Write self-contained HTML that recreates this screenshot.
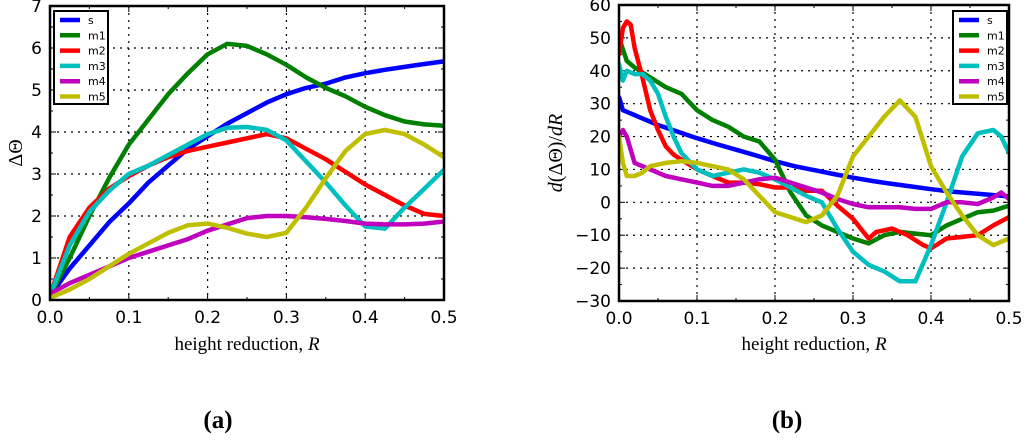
<!DOCTYPE html>
<html><head><meta charset="utf-8"><style>
body{margin:0;background:#fff;width:1024px;height:435px;overflow:hidden}
svg text{font-family:"DejaVu Sans","Liberation Sans",sans-serif}
</style></head><body>
<svg id="fig" width="1024" height="435">
<text x="218" y="428" font-weight="bold" font-size="25" text-anchor="middle" style="font-family:'Liberation Serif',serif">(a)</text>
<text x="787" y="428" font-weight="bold" font-size="25" text-anchor="middle" style="font-family:'Liberation Serif',serif">(b)</text>
</svg>
<script>
const seriesNames=["s","m1","m2","m3","m4","m5"];
const colors=["#0000ff","#007f00","#ff0000","#00bfbf","#bf00bf","#bfbf00"];
// Panel A data
const aX=[0,0.025,0.05,0.075,0.1,0.125,0.15,0.175,0.2,0.225,0.25,0.275,0.3,0.325,0.35,0.375,0.4,0.425,0.45,0.475,0.5];
const aS=[0.1,0.75,1.3,1.85,2.3,2.8,3.2,3.6,3.9,4.2,4.45,4.7,4.9,5.05,5.15,5.3,5.4,5.48,5.55,5.62,5.68];
const aM1=[0.1,1.0,2.0,2.9,3.7,4.3,4.9,5.4,5.85,6.1,6.05,5.85,5.6,5.3,5.05,4.85,4.6,4.4,4.25,4.18,4.15];
const aM2=[0.1,1.5,2.2,2.65,2.95,3.2,3.4,3.55,3.65,3.75,3.85,3.95,3.85,3.6,3.35,3.05,2.75,2.5,2.25,2.05,2.0];
const aM3=[0.1,1.3,2.1,2.6,3.0,3.2,3.45,3.7,3.95,4.1,4.12,4.05,3.8,3.3,2.8,2.25,1.75,1.7,2.2,2.65,3.1];
const aM4=[0.15,0.4,0.6,0.8,1.0,1.15,1.3,1.45,1.65,1.8,1.95,2.0,2.0,1.97,1.93,1.88,1.82,1.8,1.8,1.82,1.87];
const aM5=[0.05,0.25,0.5,0.8,1.1,1.35,1.6,1.78,1.82,1.72,1.58,1.5,1.6,2.2,2.9,3.55,3.95,4.05,3.95,3.7,3.4];
const aYTicks=[0,1,2,3,4,5,6,7];
// Panel B data
const bS_x=[0,0.005,0.025,0.05,0.075,0.1,0.125,0.15,0.175,0.2,0.225,0.25,0.275,0.3,0.325,0.35,0.375,0.4,0.425,0.45,0.475,0.5];
const bS=[32,28,26,23.5,21.5,19.5,17.7,16,14.3,12.5,11,9.8,8.6,7.5,6.5,5.6,4.8,4,3.3,2.8,2.3,1.8];
const bM1_x=[0,0.01,0.02,0.04,0.06,0.08,0.1,0.12,0.14,0.16,0.18,0.2,0.22,0.24,0.26,0.28,0.3,0.32,0.34,0.36,0.38,0.4,0.42,0.44,0.46,0.48,0.5];
const bM1=[50,43,41,38,35,33,28,25,23,20,18.5,13,3,-4,-7,-9,-11,-12.5,-10,-9,-9.5,-10,-7,-5,-3,-2.5,-1];
const bM2_x=[0,0.005,0.01,0.015,0.02,0.03,0.04,0.05,0.06,0.07,0.08,0.1,0.12,0.14,0.16,0.18,0.2,0.22,0.24,0.26,0.28,0.3,0.32,0.33,0.35,0.37,0.39,0.4,0.42,0.44,0.46,0.48,0.5];
const bM2=[45,53,55,54,47,38,28,22,17,14.5,13,10,8,6,6,5.5,4.5,4.5,3.5,3.5,-1,-5,-11,-9,-8,-10,-13,-14,-11,-10.5,-10,-7,-4.5];
const bM3_x=[0,0.005,0.01,0.02,0.03,0.04,0.05,0.06,0.07,0.08,0.1,0.12,0.14,0.16,0.18,0.2,0.22,0.24,0.26,0.28,0.3,0.32,0.34,0.36,0.38,0.4,0.42,0.44,0.46,0.48,0.49,0.5];
const bM3=[42,37,40,39,39,37,33,26,20,15,10,8,9,10,9,7,4.5,2,0,-8,-15,-19,-21,-24,-24,-13,0,14,21,22,20,15];
const bM4_x=[0,0.005,0.01,0.02,0.04,0.06,0.08,0.1,0.12,0.14,0.16,0.18,0.2,0.22,0.24,0.26,0.28,0.3,0.32,0.34,0.36,0.38,0.4,0.42,0.44,0.46,0.48,0.49,0.5];
const bM4=[20,22,20,12,10,8,7,6,5,5,6,7,7.5,6,4.5,3,1,-0.5,-1.5,-1.5,-1.5,-2,-2,0,0,-0.5,1.5,3,1];
const bM5_x=[0,0.005,0.01,0.02,0.03,0.04,0.06,0.08,0.1,0.12,0.14,0.16,0.18,0.2,0.22,0.24,0.26,0.28,0.3,0.32,0.34,0.36,0.38,0.4,0.42,0.44,0.46,0.48,0.5];
const bM5=[20,12,8,8,9,11,12,12.5,12,11,10,7,2,-3,-4.5,-6,-4,2,14,20,26,31,26,11,3,-4,-10,-13,-11];
const bYTicks=[-30,-20,-10,0,10,20,30,40,50,60];
const xTicks=[0,0.1,0.2,0.3,0.4,0.5];
const xTickLabels=["0.0","0.1","0.2","0.3","0.4","0.5"];

const NS="http://www.w3.org/2000/svg";
const svg=document.getElementById('fig');
function mk(tag,attrs,parent){const e=document.createElementNS(NS,tag);for(const k in attrs)e.setAttribute(k,attrs[k]);(parent||svg).appendChild(e);return e;}

function panel(p){
  const g=mk('g',{});
  
  
  const xs=v=>p.x0+(v-0)/(0.5)*(p.x1-p.x0);
  const ys=v=>p.y1-(v-p.ymin)/(p.ymax-p.ymin)*(p.y1-p.y0);
  const clipId=p.name+'-clip';
  const cp=mk('clipPath',{id:clipId},g);mk('rect',{x:p.x0,y:p.y0,width:p.x1-p.x0,height:p.y1-p.y0},cp);
  xTicks.forEach((t,i)=>{
    if(i>0&&i<xTicks.length-1){const l=mk('line',{x1:xs(t),x2:xs(t),y1:p.y0,y2:p.y1,stroke:'#000','stroke-width':1.2,'stroke-dasharray':'2,5'},g);
    }
    const tk=mk('line',{x1:xs(t),x2:xs(t),y1:p.y1,y2:p.y1-6,stroke:'#000','stroke-width':1},g);
    
    mk('line',{x1:xs(t),x2:xs(t),y1:p.y0,y2:p.y0+6,stroke:'#000','stroke-width':1},g);
    const tx=mk('text',{x:xs(t),y:p.y1+23,'font-size':17,'text-anchor':'middle'},g);tx.textContent=xTickLabels[i];
    
    if(i<xTicks.length-1){const mt=(t+xTicks[i+1])/2;
      mk('line',{x1:xs(mt),x2:xs(mt),y1:p.y1,y2:p.y1-3,stroke:'#000'},g);
      mk('line',{x1:xs(mt),x2:xs(mt),y1:p.y0,y2:p.y0+3,stroke:'#000'},g);}
  });
  p.yTicks.forEach((t,i)=>{
    if(i>0&&i<p.yTicks.length-1){const l=mk('line',{x1:p.x0,x2:p.x1,y1:ys(t),y2:ys(t),stroke:'#000','stroke-width':1.2,'stroke-dasharray':'2,5'},g);
    }
    mk('line',{x1:p.x0,x2:p.x0+6,y1:ys(t),y2:ys(t),stroke:'#000'},g);
    mk('line',{x1:p.x1,x2:p.x1-6,y1:ys(t),y2:ys(t),stroke:'#000'},g);
    const tx=mk('text',{x:p.x0-8,y:ys(t)+6,'font-size':17,'text-anchor':'end'},g);tx.textContent=(t<0?'\u2212'+(-t):String(t));
    
    if(i<p.yTicks.length-1){const mt=(t+p.yTicks[i+1])/2;
      mk('line',{x1:p.x0,x2:p.x0+3,y1:ys(mt),y2:ys(mt),stroke:'#000'},g);
      mk('line',{x1:p.x1,x2:p.x1-3,y1:ys(mt),y2:ys(mt),stroke:'#000'},g);}
  });
  const lg=mk('g',{'clip-path':'url(#'+clipId+')'},g);
  p.series.forEach((s,i)=>{
    const pts=s.x.map((xv,j)=>xs(xv).toFixed(1)+','+ys(s.y[j]).toFixed(1)).join(' ');
    const pl=mk('polyline',{points:pts,fill:'none',stroke:colors[i],'stroke-width':4.5,'stroke-linejoin':'round','stroke-linecap':'round'},lg);
    
  });
  const fr=mk('rect',{x:p.x0,y:p.y0,width:p.x1-p.x0,height:p.y1-p.y0,fill:'none',stroke:'#000','stroke-width':2.5},g);
  
  const leg=mk('g',{},g);
  
  mk('rect',{x:p.lx,y:11,width:54,height:93,fill:'#fff',stroke:'#000','stroke-width':2},leg);
  seriesNames.forEach((n,i)=>{
    const yy=20+i*15.3;
    const e=mk('g',{},leg);
    
    mk('line',{x1:p.lx+6,x2:p.lx+26,y1:yy,y2:yy,stroke:colors[i],'stroke-width':4.5},e);
    const t=mk('text',{x:p.lx+34,y:yy+4,'font-size':11},e);t.textContent=n;
  });
  const xl=mk('text',{x:(p.x0+p.x1)/2,y:350,'font-size':19,'text-anchor':'middle',style:"font-family:'Liberation Serif',serif"},g);
  
  xl.innerHTML='height reduction, <tspan font-style="italic">R</tspan>';
  const yl=mk('text',{x:0,y:0,'font-size':20,'text-anchor':'middle',transform:'translate('+p.ylx+','+((p.y0+p.y1)/2)+') rotate(-90)',style:"font-family:'Liberation Serif',serif"},g);
  
  yl.innerHTML=p.ylabel;
}
panel({name:'panel-a',x0:50,x1:444,y0:6,y1:300,ymin:0,ymax:7,yTicks:aYTicks,lx:54,ylx:22,ylabel:'\u0394\u0398',
  series:[{x:aX,y:aS},{x:aX,y:aM1},{x:aX,y:aM2},{x:aX,y:aM3},{x:aX,y:aM4},{x:aX,y:aM5}]});
panel({name:'panel-b',x0:619,x1:1009,y0:5,y1:301,ymin:-30,ymax:60,yTicks:bYTicks,lx:953,ylx:562,ylabel:'<tspan font-style="italic">d</tspan>(\u0394\u0398)/<tspan font-style="italic">dR</tspan>',
  series:[{x:bS_x,y:bS},{x:bM1_x,y:bM1},{x:bM2_x,y:bM2},{x:bM3_x,y:bM3},{x:bM4_x,y:bM4},{x:bM5_x,y:bM5}]});
</script>
</body></html>
